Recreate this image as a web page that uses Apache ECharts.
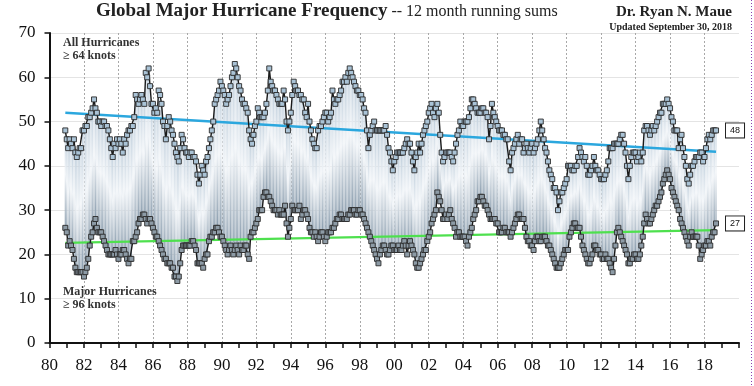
<!DOCTYPE html>
<html>
<head>
<meta charset="utf-8">
<script src="https://cdn.jsdelivr.net/npm/echarts@6/dist/echarts.min.js"></script>
<style>
html,body{margin:0;padding:0;background:#fff;}
#chart{width:754px;height:386px;}
</style>
</head>
<body>
<div id="chart"></div>
<script>
// First point: December 1980, monthly to September 2018 (12-month running sums)
const startYear = 1980;
const startMonth = 12;

const allHurricanes = [
48,46,44,46,45,44,46,43,42,43,44,44,
48,48,49,49,51,51,52,53,55,53,52,50,
50,49,50,50,49,49,48,46,44,42,45,44,
46,45,46,45,43,46,45,47,48,48,49,49,
51,56,55,54,55,56,55,54,61,60,62,58,
54,54,52,53,52,57,56,54,50,49,46,49,
51,50,48,47,45,43,42,41,44,47,46,44,
43,43,42,43,43,42,42,41,38,36,38,40,
39,38,41,42,44,46,48,50,54,55,56,57,
59,58,57,56,54,55,56,58,60,61,63,62,
60,58,57,55,54,54,53,52,48,46,45,47,
49,50,53,52,51,51,51,52,54,57,62,59,
58,57,57,56,55,54,54,54,57,55,50,48,
50,52,56,59,58,57,57,56,56,55,55,52,
51,54,50,48,46,45,44,44,48,49,49,50,
51,52,52,50,51,52,57,55,54,55,55,56,
57,59,59,60,59,61,62,61,60,59,58,57,
57,56,56,55,53,52,48,44,47,48,49,50,
48,48,48,48,48,48,48,49,47,44,43,41,
39,41,42,43,43,43,43,43,44,45,46,45,
45,43,41,39,42,43,45,43,45,47,48,49,
50,52,53,54,52,51,53,54,52,47,43,41,
42,43,43,43,43,42,41,43,45,47,48,50,
49,49,50,50,50,51,53,55,55,54,53,52,
52,52,53,53,52,52,51,46,49,54,52,51,
50,49,48,48,48,47,47,46,46,41,39,43,
44,45,46,47,45,46,46,43,44,45,44,43,
44,45,43,44,45,46,48,50,48,46,44,43,
41,39,38,37,35,35,34,30,32,34,34,35,
36,37,40,40,40,39,39,40,40,42,44,43,
42,41,42,40,38,38,39,40,42,40,39,39,
38,37,37,37,38,39,41,44,44,44,45,45,
45,45,46,47,47,45,43,40,37,40,42,43,
43,43,41,42,43,41,43,48,49,49,48,47,
48,49,48,49,50,51,52,52,54,54,54,55,
54,53,51,50,48,48,48,44,46,47,44,42,
40,37,36,38,40,40,41,42,42,42,43,43,
41,42,44,46,47,46,47,48,48,48
];

const majorHurricanes = [
26,25,22,23,22,21,19,17,16,16,16,16,
16,15,16,17,19,22,24,25,27,28,26,25,
25,25,24,23,22,21,20,20,20,20,20,21,
20,19,20,20,21,21,20,19,18,19,19,23,
23,24,25,27,28,28,29,29,28,27,28,28,
27,26,25,24,24,23,22,21,20,19,19,18,
18,18,17,17,15,15,14,15,18,21,22,22,
22,22,22,22,23,23,22,21,18,18,18,18,
17,19,20,20,23,24,24,25,25,26,26,25,
24,24,23,22,21,20,21,22,21,20,21,22,
21,20,22,21,21,22,22,20,19,24,25,25,
26,27,28,30,30,30,33,34,34,33,33,32,
31,30,30,30,29,30,29,29,29,31,27,24,
26,28,31,30,30,30,30,31,28,29,30,30,
29,28,26,25,25,24,25,24,23,24,25,25,
24,23,24,25,25,25,26,26,27,28,28,29,
29,28,28,28,28,29,29,30,30,30,29,29,
30,30,29,29,28,27,26,25,24,23,22,21,
20,19,18,20,21,22,22,21,20,20,21,22,
22,21,21,21,22,21,21,22,23,22,20,22,
23,22,21,20,18,17,17,18,19,20,21,21,
23,24,25,27,28,29,30,34,33,32,30,28,
28,29,28,29,30,28,27,26,24,25,25,24,
24,24,24,23,22,24,25,26,28,29,30,32,
32,33,33,32,31,31,30,29,28,28,28,28,
27,27,25,25,25,26,26,25,25,25,24,25,
26,27,28,29,29,28,28,28,26,24,23,23,
22,22,21,23,24,24,23,23,24,24,24,23,
22,22,21,20,19,18,17,17,17,18,19,20,
21,21,21,24,25,26,27,27,26,26,26,24,
22,21,20,19,18,18,19,20,22,22,21,21,
20,20,19,19,20,19,19,18,17,16,19,22,
25,26,25,24,23,22,21,20,18,18,19,19,
20,20,19,19,20,22,24,27,29,28,27,27,
28,29,30,31,31,32,33,34,36,37,38,39,
38,37,35,34,33,32,31,30,28,27,26,25,
24,23,22,24,25,24,24,24,24,22,19,20,
21,22,22,23,23,22,24,25,25,27
];

// Trend line end values (start, end)
const trendAll = [52.0, 43.2];
const trendMajor = [22.6, 25.5];

const yTicks = [0, 10, 20, 30, 40, 50, 60, 70];

const dates = allHurricanes.map((_, i) => startYear + (startMonth - 1 + i) / 12);
const allData = dates.map((d, i) => [d, allHurricanes[i]]);
const majorData = dates.map((d, i) => [d, majorHurricanes[i]]);
const fillData = dates.map((d, i) => [d, majorHurricanes[i], allHurricanes[i]]);
const firstX = dates[0], lastX = dates[dates.length - 1];

const serif = '"Liberation Serif", "DejaVu Serif", serif';
const chart = echarts.init(document.getElementById('chart'), null, {renderer: 'canvas'});

const barGrad = new echarts.graphic.LinearGradient(0, 0, 0, 1, [
  {offset: 0, color: '#c0cfdc'},
  {offset: 0.45, color: '#eff3f7'},
  {offset: 1, color: '#889bac'}
]);

const endLabelStyle = {
  show: true, distance: 10,
  formatter: p => String(p.value[1]),
  fontFamily: 'Arial, "Liberation Sans", sans-serif', fontSize: 9, color: '#111',
  backgroundColor: '#fff', borderColor: '#222', borderWidth: 1, padding: [3, 4, 2, 4]
};

chart.setOption({
  animation: false,
  backgroundColor: '#ffffff',
  grid: {left: 49.5, top: 33, width: 689.5, height: 310, containLabel: false},
  xAxis: {
    type: 'value', min: 1980, max: 2020, interval: 2,
    axisLine: {show: true, lineStyle: {color: '#111', width: 2}},
    axisTick: {show: true, length: 5, lineStyle: {color: '#111', width: 1.5}},
    minorTick: {show: true, splitNumber: 2, length: 5, lineStyle: {color: '#111', width: 1.5}},
    axisLabel: {
      fontFamily: serif, fontSize: 17, color: '#111', margin: 14,
      formatter: v => (v >= 2020 ? '' : String(v % 100).padStart(2, '0'))
    },
    splitLine: {show: true, showMinLine: false, showMaxLine: false,
      lineStyle: {color: '#a8a8a8', type: [2, 2], width: 1}}
  },
  yAxis: {
    type: 'value', min: yTicks[0], max: yTicks[yTicks.length - 1], interval: 10,
    axisLine: {show: true, lineStyle: {color: '#111', width: 2}},
    axisTick: {show: true, length: 5, lineStyle: {color: '#111', width: 1.5}},
    axisLabel: {fontFamily: serif, fontSize: 17, color: '#111', margin: 14},
    splitLine: {show: true, lineStyle: {color: '#e4e4e4', width: 1}}
  },
  series: [
    {
      type: 'custom', z: 1, silent: true,
      renderItem: function (params, api) {
        const x = api.value(0), lo = api.value(1), hi = api.value(2);
        const p1 = api.coord([x, hi]);
        const p2 = api.coord([x, lo]);
        const w = api.size([1 / 12, 0])[0];
        return {
          type: 'rect',
          shape: {x: p1[0] - w * 0.4, y: p1[1], width: w * 0.8, height: p2[1] - p1[1]},
          style: {fill: barGrad}
        };
      },
      encode: {x: 0, y: [1, 2]},
      data: fillData
    },
    {
      type: 'line', z: 3, silent: true, symbol: 'none',
      lineStyle: {color: '#2ba7de', width: 2.5},
      data: [[firstX, trendAll[0]], [lastX, trendAll[1]]]
    },
    {
      type: 'line', z: 3, silent: true, symbol: 'none',
      lineStyle: {color: '#4ee04e', width: 2.2},
      data: [[firstX, trendMajor[0]], [lastX, trendMajor[1]]]
    },
    {
      type: 'line', z: 5, name: 'All Hurricanes',
      data: allData, symbol: 'rect', symbolSize: 5, showAllSymbol: true,
      lineStyle: {color: '#1a1a1a', width: 1.4},
      itemStyle: {color: '#aac3d6', borderColor: '#2a2a2a', borderWidth: 0.9},
      endLabel: endLabelStyle
    },
    {
      type: 'line', z: 5, name: 'Major Hurricanes',
      data: majorData, symbol: 'rect', symbolSize: 5, showAllSymbol: true,
      lineStyle: {color: '#1a1a1a', width: 1.4},
      itemStyle: {color: '#8d9ba6', borderColor: '#2a2a2a', borderWidth: 0.9},
      endLabel: endLabelStyle
    }
  ],
  graphic: [
    {type: 'text', left: 96, top: 2, style: {
      text: '{a|Global Major Hurricane Frequency}{b| -- 12 month running sums}',
      rich: {
        a: {fontFamily: serif, fontSize: 19, fontWeight: 'bold', fill: '#222'},
        b: {fontFamily: serif, fontSize: 16, fill: '#222'}
      }}},
    {type: 'text', right: 22, top: 5, style: {
      text: 'Dr. Ryan N. Maue', fontFamily: serif, fontSize: 15, fontWeight: 'bold', fill: '#222'}},
    {type: 'text', right: 22, top: 22, style: {
      text: 'Updated September 30, 2018', fontFamily: serif, fontSize: 10, fontWeight: 'bold', fill: '#222'}},
    {type: 'text', left: 63, top: 36, z: 10, style: {
      text: 'All Hurricanes\n≥ 64 knots', fontFamily: serif, fontSize: 12, fontWeight: 'bold',
      fill: '#333', lineHeight: 13}},
    {type: 'text', left: 63, top: 285, z: 10, style: {
      text: 'Major Hurricanes\n≥ 96 knots', fontFamily: serif, fontSize: 12, fontWeight: 'bold',
      fill: '#333', lineHeight: 13}},
    {type: 'line', shape: {x1: 751.5, y1: 0, x2: 751.5, y2: 386},
      style: {stroke: '#8a3fb0', lineWidth: 1, lineDash: [1, 2]}}
  ]
});
</script>
</body>
</html>
